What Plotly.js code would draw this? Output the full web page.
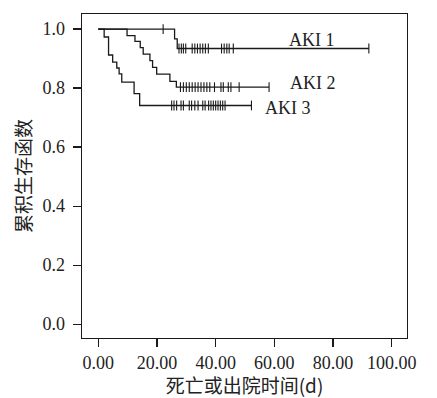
<!DOCTYPE html>
<html>
<head>
<meta charset="utf-8">
<script src="https://cdn.plot.ly/plotly-3.0.1.min.js"></script>
<style>html,body{margin:0;padding:0;background:#fff;}#chart{width:437px;height:398px;}</style>
</head>
<body>
<div id="chart"></div>
<script>
// Kaplan-Meier data
const groupNames = ["AKI 1", "AKI 2", "AKI 3"];

const aki1EventTimes = [26.0, 26.9];
const aki1EventLevels = [0.967, 0.934];
const aki1CensorTimes = [22.1, 27.5, 28.3, 29.0, 29.8, 32.0, 32.9, 33.8, 34.7, 35.6, 36.5, 37.5, 42.0, 42.9, 43.8, 44.6, 46.0, 92.2];

const aki2EventTimes = [9.8, 12.5, 14.3, 15.3, 17.6, 18.5, 19.9, 24.4, 26.6];
const aki2EventLevels = [0.978, 0.958, 0.937, 0.915, 0.893, 0.870, 0.847, 0.823, 0.803];
const aki2CensorTimes = [28.0, 29.0, 30.0, 31.0, 32.0, 33.0, 34.0, 35.0, 36.0, 37.0, 38.0, 39.6, 41.8, 42.6, 44.3, 45.2, 48.0, 58.2];

const aki3EventTimes = [2.0, 3.5, 4.9, 6.3, 7.1, 8.0, 12.2, 14.1];
const aki3EventLevels = [0.973, 0.912, 0.888, 0.868, 0.848, 0.820, 0.781, 0.741];
const aki3CensorTimes = [25.0, 25.8, 26.7, 28.2, 29.0, 31.0, 31.8, 32.9, 34.0, 35.6, 36.4, 37.6, 38.4, 39.2, 40.0, 40.8, 41.6, 42.4, 43.2, 52.2];

// label positions (data coords)
const labelX = [72.8, 73.0, 64.6];
const labelY = [0.963, 0.817, 0.732];

const xTickVals = [0, 20, 40, 60, 80, 100];
const xTickText = ["0.00", "20.00", "40.00", "60.00", "80.00", "100.00"];
const yTickVals = [0, 0.2, 0.4, 0.6, 0.8, 1.0];
const yTickText = ["0.0", "0.2", "0.4", "0.6", "0.8", "1.0"];

function levelAt(t, times, levels) {
  let v = 1.0;
  for (let i = 0; i < times.length; i++) { if (times[i] <= t) v = levels[i]; }
  return v;
}

function kmTraces(times, levels, censor) {
  const lastT = Math.max(censor[censor.length - 1], times[times.length - 1]);
  const xs = [0].concat(times, [lastT]);
  const ys = [1.0].concat(levels, [levels[levels.length - 1]]);
  const line = {
    x: xs, y: ys, type: "scatter", mode: "lines",
    line: {shape: "hv", color: "#1a1a1a", width: 1.3},
    hoverinfo: "skip", showlegend: false
  };
  const marks = {
    x: censor, y: censor.map(t => levelAt(t, times, levels)),
    type: "scatter", mode: "markers",
    marker: {symbol: "line-ns", size: 7, color: "#1a1a1a", line: {color: "#1a1a1a", width: 1.1}},
    hoverinfo: "skip", showlegend: false
  };
  return [line, marks];
}

const data = [].concat(
  kmTraces(aki1EventTimes, aki1EventLevels, aki1CensorTimes),
  kmTraces(aki2EventTimes, aki2EventLevels, aki2CensorTimes),
  kmTraces(aki3EventTimes, aki3EventLevels, aki3CensorTimes)
);

const serif = "Liberation Serif, Times New Roman, serif";
const cjk = "Noto Sans CJK SC, sans-serif";

const layout = {
  width: 437, height: 398,
  margin: {l: 82, r: 30, t: 14, b: 60},
  paper_bgcolor: "#fff", plot_bgcolor: "#fff",
  showlegend: false,
  xaxis: {
    range: [-5.55, 105.2], tickvals: xTickVals, ticktext: xTickText,
    ticks: "outside", ticklen: 8, tickwidth: 1.2, tickcolor: "#1a1a1a",
    showline: true, mirror: true, linecolor: "#1a1a1a", linewidth: 1.3,
    showgrid: false, zeroline: false,
    tickfont: {family: serif, size: 18, color: "#222"},
    title: {text: "死亡或出院时间(d)", font: {family: cjk, size: 19, color: "#222"}, standoff: 3}
  },
  yaxis: {
    range: [-0.047, 1.051], tickvals: yTickVals, ticktext: yTickText,
    ticks: "outside", ticklen: 8, tickwidth: 1.2, tickcolor: "#1a1a1a",
    ticklabelstandoff: 4,
    showline: true, mirror: true, linecolor: "#1a1a1a", linewidth: 1.3,
    showgrid: false, zeroline: false,
    tickfont: {family: serif, size: 18, color: "#222"},
    title: {text: "累积生存函数", font: {family: cjk, size: 19, color: "#222"}, standoff: 6}
  },
  annotations: groupNames.map((n, i) => ({
    x: labelX[i], y: labelY[i], xref: "x", yref: "y", text: n, showarrow: false,
    font: {family: serif, size: 18, color: "#222"}, xanchor: "center", yanchor: "middle"
  }))
};

Plotly.newPlot("chart", data, layout, {staticPlot: true, displayModeBar: false});
</script>
</body>
</html>
